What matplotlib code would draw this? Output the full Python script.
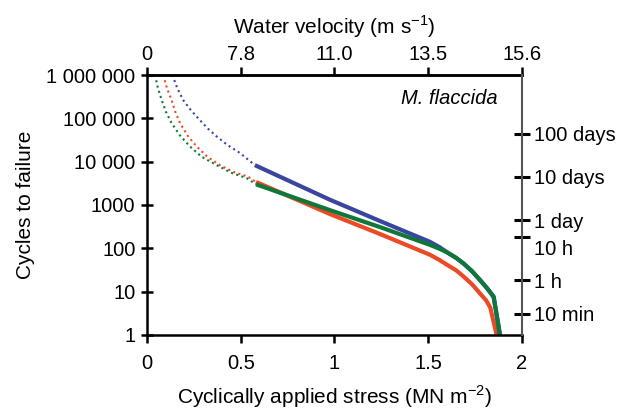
import matplotlib
matplotlib.use("Agg")
import matplotlib.pyplot as plt
from matplotlib.transforms import ScaledTranslation

plt.rcParams['font.family'] = ['Liberation Sans', 'DejaVu Sans']

# ---- data ----
blue_x = [0.575, 0.976, 1.243, 1.51, 1.56, 1.601, 1.65, 1.689, 1.735, 1.777, 1.815, 1.85, 1.884]
blue_n = [8300, 1320, 427, 141, 107, 81, 60, 44.7, 29.5, 18.6, 12, 7.6, 1]
green_x = [0.581, 0.976, 1.243, 1.51, 1.56, 1.601, 1.65, 1.689, 1.735, 1.777, 1.815, 1.85, 1.884]
green_n = [3000, 760, 309, 120, 98, 81, 60, 44.7, 29.5, 18.6, 12, 7.6, 1]
red_x = [0.581, 0.976, 1.243, 1.51, 1.56, 1.601, 1.65, 1.689, 1.735, 1.777, 1.81, 1.832, 1.866]
red_n = [3400, 617, 214, 71, 54, 41.7, 31, 22.4, 14.8, 9.1, 6.3, 4.3, 1]

blue_dot_x = [0.134, 0.16, 0.192, 0.23, 0.272, 0.32, 0.371, 0.43, 0.495, 0.575]
blue_dot_n = [1e6, 500000, 263000, 160000, 100000, 60000, 38000, 24000, 15850, 8300]
red_dot_x = [0.085, 0.105, 0.13, 0.15, 0.175, 0.215, 0.264, 0.32, 0.388, 0.46, 0.54, 0.581]
red_dot_n = [1e6, 500000, 263000, 140000, 77600, 40000, 22400, 13000, 8300, 5800, 4470, 3400]
green_dot_x = [0.041, 0.057, 0.077, 0.10, 0.13, 0.175, 0.228, 0.29, 0.371, 0.45, 0.531, 0.581]
green_dot_n = [1e6, 500000, 263000, 140000, 77600, 40000, 22400, 13000, 8300, 5500, 4170, 3000]

y_ticks = [1, 10, 100, 1000, 10000, 100000, 1000000]
y_labels = ['1', '10', '100', '1000', '10 000', '100 000', '1 000 000']
x_ticks = [0, 0.5, 1, 1.5, 2]
x_labels = ['0', '0.5', '1', '1.5', '2']
vel_labels = ['0', '7.8', '11.0', '13.5', '15.6']
time_labels = ['10 min', '1 h', '10 h', '1 day', '10 days', '100 days']
time_seconds = [600, 3600, 36000, 86400, 864000, 8640000]
cycle_period_s = 195.0

BLUE = '#3a45a0'
RED = '#ec4a26'
GREEN = '#10773a'

FS = 14.5

fig = plt.figure(figsize=(6.31, 4.09), dpi=100)
ax = fig.add_axes([0.2334, 0.181, 0.8268 - 0.2334, 0.8166 - 0.181])

ax.set_yscale('log')
ax.set_xlim(0, 2)
ax.set_ylim(1, 1e6)

dot = (0, (1.0, 1.6))
ax.plot(red_dot_x, red_dot_n, color=RED, lw=1.5, ls=dot)
ax.plot(blue_dot_x, blue_dot_n, color=BLUE, lw=1.5, ls=dot)
ax.plot(green_dot_x, green_dot_n, color=GREEN, lw=1.5, ls=dot)
ax.plot(red_x, red_n, color=RED, lw=3.0, solid_capstyle='butt', solid_joinstyle='round')
ax.plot(blue_x, blue_n, color=BLUE, lw=3.0, solid_capstyle='butt', solid_joinstyle='round')
ax.plot(green_x, green_n, color=GREEN, lw=3.0, solid_capstyle='butt', solid_joinstyle='round')

ax.set_yticks(y_ticks)
ax.set_yticklabels(y_labels)
ax.yaxis.set_minor_locator(matplotlib.ticker.NullLocator())
ax.set_xticks(x_ticks)
ax.set_xticklabels(x_labels)

for s in ['left', 'bottom', 'top']:
    ax.spines[s].set_linewidth(1.8)
    ax.spines[s].set_color('black')
ax.spines['right'].set_visible(False)

ax.tick_params(axis='y', which='major', direction='inout', length=9, width=1.8,
               labelsize=FS, pad=4)
ax.tick_params(axis='x', which='major', direction='out', length=6, width=1.8,
               labelsize=FS, pad=8)
ax.set_xlabel('Cyclically applied stress (MN m$^{\\mathregular{-2}}$)', fontsize=15, labelpad=7)
ax.set_ylabel('Cycles to failure', fontsize=15, labelpad=8)

# top axis: water velocity
top = ax.secondary_xaxis('top')
top.set_xticks(x_ticks)
top.set_xticklabels(vel_labels)
top.tick_params(direction='out', length=6, width=1.8, labelsize=FS, pad=2)
top.spines['top'].set_linewidth(1.8)
top.set_xlabel('Water velocity (m s$^{\\mathregular{-1}}$)', fontsize=15, labelpad=8)

# right axis: time
rax = ax.twinx()
rax.set_yscale('log')
rax.set_ylim(1, 1e6)
rax.set_yticks([t / cycle_period_s for t in time_seconds])
rax.set_yticklabels(time_labels)
rax.yaxis.set_minor_locator(matplotlib.ticker.NullLocator())
for s in ['left', 'bottom', 'top']:
    rax.spines[s].set_visible(False)
rax.spines['right'].set_color('#555555')
rax.spines['right'].set_linewidth(1.5)
rax.tick_params(axis='y', direction='inout', length=11, width=2.2, labelsize=FS,
                pad=3, color='black')
for lab in rax.get_yticklabels():
    if lab.get_text() == '10 h':
        lab.set_transform(lab.get_transform() + ScaledTranslation(0, -8 / 72, fig.dpi_scale_trans))

ax.text(0.937, 0.91, 'M. flaccida', transform=ax.transAxes, fontsize=FS,
        style='italic', ha='right', va='center')

fig.savefig('out.png', dpi=100)
